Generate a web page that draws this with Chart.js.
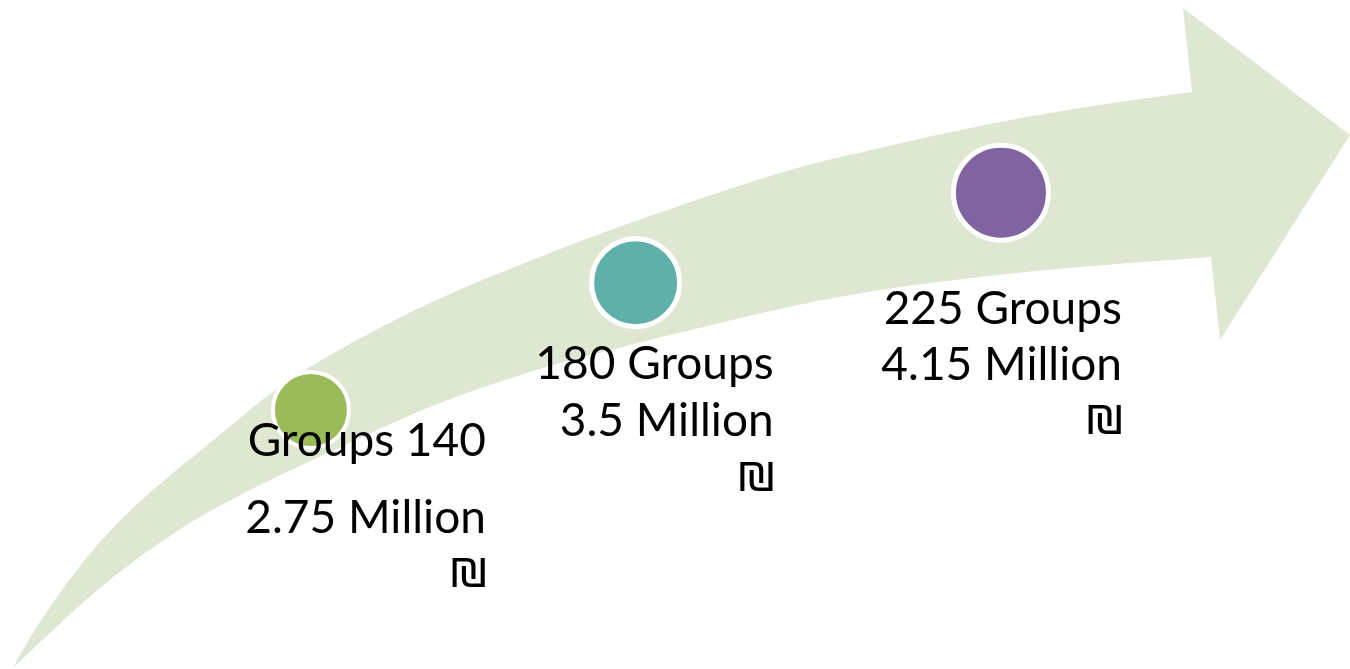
<!DOCTYPE html>
<html>
<head>
<meta charset="utf-8">
<title>Groups growth</title>
<script src="https://cdn.jsdelivr.net/npm/chart.js@4.4.0/dist/chart.umd.min.js"></script>
<style>
  html, body { margin: 0; padding: 0; background: #ffffff; }
  #wrap { width: 1350px; height: 669px; position: relative; }
</style>
</head>
<body>
<div id="wrap"><canvas id="stepsChart"></canvas></div>
<script>
// Data
const groups = [140, 180, 225]
const millions = [2.75, 3.5, 4.15]
const groupLabels = ["Groups 140", "180 Groups", "225 Groups"]
const amountLabels = ["2.75 Million", "3.5 Million", "4.15 Million"]
const currencyLabel = "₪"

// Background arrow outline (canvas-like px/py axes)
const arrowUpperX = [13, 33, 67, 100, 133, 167, 200, 233, 273, 330, 430, 530, 630, 780, 880, 980, 1080, 1192]
const arrowUpperY = [668, 633, 583, 542, 508, 478, 451, 424, 392, 355, 303, 261, 223, 173, 148, 126, 108, 92]
const arrowHeadX = [1183, 1350, 1220]
const arrowHeadY = [8, 135, 340]
const arrowLowerX = [1211, 1080, 980, 880, 780, 630, 530, 430, 330, 250, 200, 167, 133, 100, 67, 13]
const arrowLowerY = [257, 267, 277, 290, 309, 345, 372, 407, 452, 490, 517, 538, 562, 588, 617, 668]

// Styles / layout
const stepColors = ["#9BBB59", "#5FB0A8", "#8064A2"]
const arrowColor = "#DEE7D1"
const pointRadii = [38, 44, 47.5]
const pointBorders = [4, 5, 5]
const labelDx = [175, 138, 121]
const labelDy = [[46, 123, 177], [96, 153, 208], [131, 187, 241]]
const labelFont = "46px Lato, 'Noto Sans', sans-serif"
const currencyFont = "50px Lato, 'Noto Sans', sans-serif"

document.addEventListener("DOMContentLoaded", () => {
  // catmull-rom through a list of pixel points
  function smoothPath(ctx, pts, first) {
    if (first) ctx.moveTo(pts[0].x, pts[0].y)
    else ctx.lineTo(pts[0].x, pts[0].y)
    for (let i = 0; i < pts.length - 1; i++) {
      const p0 = pts[i - 1] || pts[i]
      const p1 = pts[i]
      const p2 = pts[i + 1]
      const p3 = pts[i + 2] || p2
      ctx.bezierCurveTo(
        p1.x + (p2.x - p0.x) / 6, p1.y + (p2.y - p0.y) / 6,
        p2.x - (p3.x - p1.x) / 6, p2.y - (p3.y - p1.y) / 6,
        p2.x, p2.y
      )
    }
  }

  const arrowPlugin = {
    id: "arrowShape",
    beforeDatasetsDraw(chart) {
      const sx = chart.scales.px
      const sy = chart.scales.py
      const toPx = (xs, ys) => xs.map((x, i) => ({ x: sx.getPixelForValue(x), y: sy.getPixelForValue(ys[i]) }))
      const upper = toPx(arrowUpperX, arrowUpperY)
      const head = toPx(arrowHeadX, arrowHeadY)
      const lower = toPx(arrowLowerX, arrowLowerY)
      const ctx = chart.ctx
      ctx.save()
      ctx.beginPath()
      smoothPath(ctx, upper, true)
      head.forEach((p) => ctx.lineTo(p.x, p.y))
      smoothPath(ctx, lower, false)
      ctx.closePath()
      ctx.fillStyle = arrowColor
      ctx.fill()
      ctx.restore()
    },
  }

  const labelPlugin = {
    id: "stepLabels",
    afterDatasetsDraw(chart) {
      const ctx = chart.ctx
      const meta = chart.getDatasetMeta(0)
      ctx.save()
      ctx.fillStyle = "#000000"
      ctx.textAlign = "right"
      ctx.textBaseline = "alphabetic"
      meta.data.forEach((pt, i) => {
        const x = pt.x + labelDx[i]
        ctx.font = labelFont
        ctx.fillText(groupLabels[i], x, pt.y + labelDy[i][0])
        ctx.fillText(amountLabels[i], x, pt.y + labelDy[i][1])
        ctx.font = currencyFont
        ctx.fillText(currencyLabel, x + 4, pt.y + labelDy[i][2])
      })
      ctx.restore()
    },
  }

  const ctx = document.getElementById("stepsChart").getContext("2d")
  new Chart(ctx, {
    type: "scatter",
    data: {
      datasets: [
        {
          label: "Groups",
          data: groups.map((g, i) => ({ x: g, y: millions[i] })),
          pointRadius: pointRadii,
          pointHoverRadius: pointRadii,
          pointBackgroundColor: stepColors,
          pointBorderColor: "#ffffff",
          pointBorderWidth: pointBorders,
          showLine: false,
          clip: false,
        },
      ],
    },
    options: {
      responsive: true,
      maintainAspectRatio: false,
      animation: false,
      layout: { padding: 0, autoPadding: false },
      plugins: {
        legend: { display: false },
        tooltip: { enabled: false },
      },
      scales: {
        x: { type: "linear", min: 101.7, max: 268, display: false },
        y: { type: "logarithmic", min: 1.684, max: 5.978, display: false },
        px: { type: "linear", axis: "x", position: "bottom", min: 0, max: 1350, display: false },
        py: { type: "linear", axis: "y", position: "left", min: 0, max: 669, reverse: true, display: false },
      },
    },
    plugins: [arrowPlugin, labelPlugin],
  })
})
</script>
</body>
</html>
